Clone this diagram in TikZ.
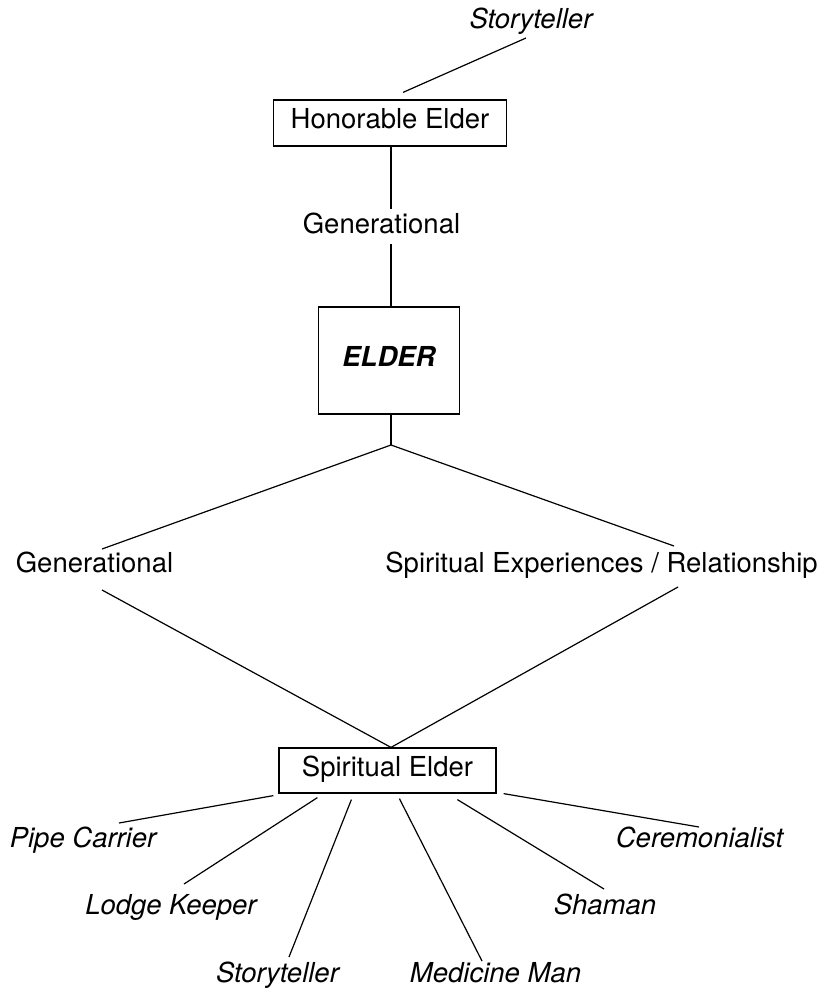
\documentclass[tikz,border=0pt]{standalone}
\usepackage{fontspec}
\setmainfont{TeX Gyre Heros}

\begin{document}
\begin{tikzpicture}[x=1pt, y=-1pt, line width=1.2pt,
	lbl/.style={font=\fontsize{27.5}{32}\selectfont, inner sep=0pt, text height=1.1em, text depth=0pt},
	role/.style={lbl, font=\fontsize{27.5}{32}\selectfont\itshape},
	box/.style={lbl, draw, inner sep=0pt, line width=1.2pt}]
	\useasboundingbox (0,0) rectangle (825,994);

	\node (st1) at (531,23) [role] {Storyteller};
	\node (he) at (390,123) [box,minimum width=233,minimum height=46] {Honorable Elder};
	\node (gen1) at (381.5,228) [lbl] {Generational};
	\node (elder) at (389,360.5) [box,minimum width=141,minimum height=107,font=\fontsize{27.5}{32}\selectfont\bfseries\itshape] {ELDER};
	\coordinate (j1) at (391,445);

	\node (gen2) at (94.5,567) [lbl] {Generational};
	\node (spr) at (601.5,567) [lbl] {Spiritual Experiences / Relationship};

	\node (se) at (387.5,770.5) [box,minimum width=217,minimum height=45] {Spiritual Elder};

	\node (pc) at (83,842) [role] {Pipe Carrier};
	\node (lk) at (171,909) [role] {Lodge Keeper};
	\node (st2) at (277.5,977) [role] {Storyteller};
	\node (mm) at (495.5,977) [role] {Medicine Man};
	\node (sh) at (605,909) [role] {Shaman};
	\node (ce) at (699.5,842) [role] {Ceremonialist};

	% upper part
	\draw ([shift={(13,-7)}]he.north) -- ([shift={(-5,15)}]st1.center);
	\draw ([xshift=1pt]he.south) -- ([shift={(9.5,-19)}]gen1.center);
	\draw ([shift={(9.5,16)}]gen1.center) -- ([xshift=2pt]elder.north);
	\draw ([xshift=2pt]elder.south) -- (j1);

	\draw (j1) -- ([shift={(7.5,-18)}]gen2.center);
	\draw (j1) -- ([shift={(72.5,-21)}]spr.center);
	\draw ([shift={(7.5,23)}]gen2.center) -- ([xshift=3.5pt]se.north);
	\draw ([shift={(76.5,20)}]spr.center) -- ([xshift=3.5pt]se.north);

	% roles
	\draw ([shift={(-5,2)}]se.south west) -- ([shift={(36,-19)}]pc.center);
	\draw ([shift={(39,4)}]se.south west) -- ([shift={(13,-25)}]lk.center);
	\draw ([shift={(73,6)}]se.south west) -- ([shift={(11.5,-20)}]st2.center);
	\draw ([shift={(121,5)}]se.south west) -- ([shift={(-13.5,-16)}]mm.center);
	\draw ([shift={(179,6)}]se.south west) -- ([shift={(-1,-20)}]sh.center);
	\draw ([shift={(7,0)}]se.south east) -- ([shift={(-0.5,-15)}]ce.center);
\end{tikzpicture}
\end{document}
